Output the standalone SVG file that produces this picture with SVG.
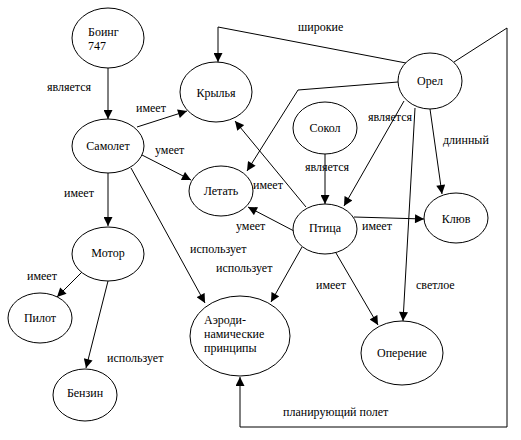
<svg xmlns="http://www.w3.org/2000/svg" width="521" height="440" viewBox="0 0 521 440" font-family="Liberation Serif, Times New Roman, serif" font-size="12">
<defs>
<marker id="arr" viewBox="0 0 10 10" refX="10" refY="5" markerWidth="10" markerHeight="9" orient="auto" markerUnits="userSpaceOnUse">
<path d="M0,0 L10,5 L0,10 z" fill="#000"/>
</marker>
</defs>
<style>
ellipse{fill:#fff;stroke:#000;stroke-width:1}
text{fill:#000}
.c{text-anchor:middle}
#connectors line,#connectors polyline{stroke:#000;stroke-width:1;fill:none;marker-end:url(#arr)}
</style>
<rect width="521" height="440" fill="#fff"/>
<g id="connectors">
<line x1="108" y1="68" x2="108" y2="119"/>
<line x1="137" y1="127" x2="187" y2="111"/>
<line x1="142" y1="155" x2="191" y2="180"/>
<line x1="108" y1="173" x2="108" y2="226"/>
<line x1="131" y1="168" x2="205" y2="303"/>
<line x1="82" y1="272" x2="57" y2="297"/>
<line x1="108" y1="281" x2="86" y2="368"/>
<line x1="302" y1="247" x2="271" y2="302"/>
<line x1="294" y1="231" x2="248" y2="207"/>
<line x1="306" y1="207" x2="235" y2="121"/>
<line x1="325" y1="154" x2="325" y2="204"/>
<line x1="404" y1="101" x2="344" y2="206"/>
<polyline points="398,82 298,90 247,171"/>
<polyline points="406,63 218,27 218,62"/>
<line x1="430" y1="109" x2="442" y2="194"/>
<line x1="415" y1="108" x2="403" y2="321"/>
<line x1="354" y1="217" x2="424" y2="219"/>
<line x1="336" y1="253" x2="378" y2="325"/>
<polyline points="454,62 507,28 507,427 240,427 240,377"/>
<text x="47" y="91">является</text>
<text x="136" y="112">имеет</text>
<text x="155" y="154">умеет</text>
<text x="64" y="197">имеет</text>
<text x="190" y="253">использует</text>
<text x="27" y="280">имеет</text>
<text x="107" y="362">использует</text>
<text x="216" y="272">использует</text>
<text x="236" y="230">умеет</text>
<text x="253" y="189">имеет</text>
<text x="305" y="171">является</text>
<text x="368" y="121">является</text>
<text x="298" y="31">широкие</text>
<text x="443" y="144">длинный</text>
<text x="416" y="289">светлое</text>
<text x="362" y="230">имеет</text>
<text x="316" y="289">имеет</text>
<text x="283" y="416">планирующий полет</text>
</g>
<g id="boeing"><ellipse cx="108" cy="38" rx="36" ry="30"/><text x="88" y="36">Боинг</text><text x="88" y="50">747</text></g>
<g id="samolet"><ellipse cx="108" cy="146" rx="36" ry="27"/><text class="c" x="108" y="150">Самолет</text></g>
<g id="krylya"><ellipse cx="216" cy="92" rx="36" ry="30"/><text class="c" x="216" y="97">Крылья</text></g>
<g id="letat"><ellipse cx="221" cy="191" rx="32" ry="25"/><text class="c" x="221" y="195">Летать</text></g>
<g id="sokol"><ellipse cx="325" cy="128" rx="32" ry="26"/><text class="c" x="325" y="132">Сокол</text></g>
<g id="orel"><ellipse cx="430" cy="81" rx="32" ry="28"/><text class="c" x="430" y="85">Орел</text></g>
<g id="ptica"><ellipse cx="325" cy="229" rx="32" ry="25"/><text class="c" x="325" y="232">Птица</text></g>
<g id="klyuv"><ellipse cx="456" cy="218" rx="32" ry="25"/><text class="c" x="456" y="223">Клюв</text></g>
<g id="motor"><ellipse cx="108" cy="254" rx="36" ry="27"/><text class="c" x="108" y="257">Мотор</text></g>
<g id="pilot"><ellipse cx="40" cy="318" rx="32" ry="25"/><text class="c" x="40" y="322">Пилот</text></g>
<g id="benzin"><ellipse cx="85" cy="395" rx="32" ry="26"/><text class="c" x="85" y="397">Бензин</text></g>
<g id="aero"><ellipse cx="240" cy="336" rx="50" ry="40"/><text x="204" y="324">Аэроди-</text><text x="204" y="338">намические</text><text x="204" y="352">принципы</text></g>
<g id="operenie"><ellipse cx="402" cy="353" rx="41" ry="32"/><text class="c" x="402" y="357">Оперение</text></g>
</svg>
